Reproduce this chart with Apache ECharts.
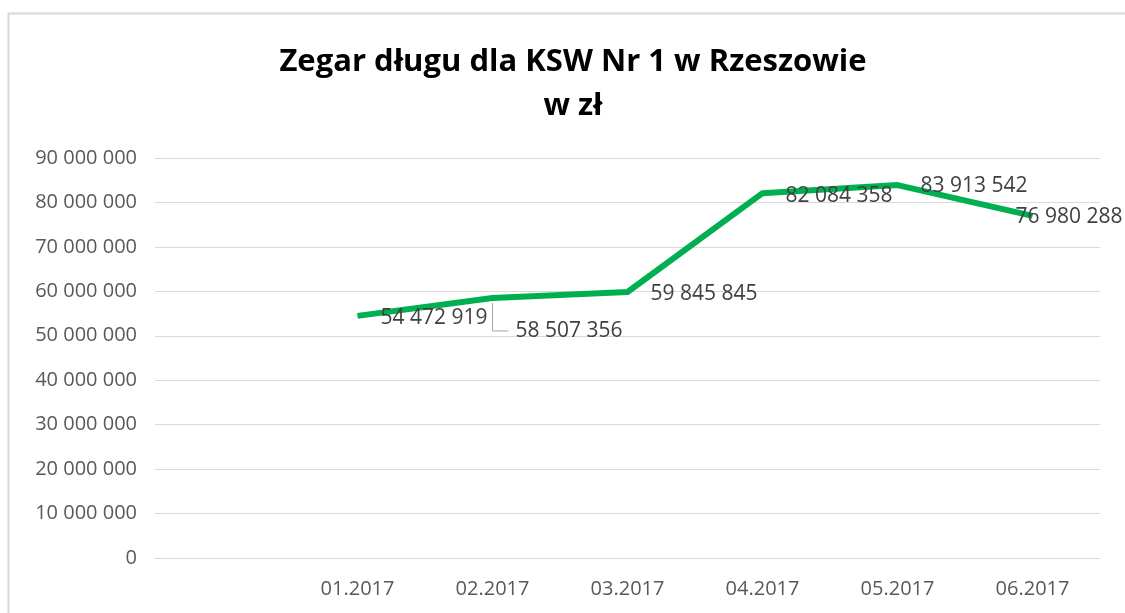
<!DOCTYPE html>
<html>
<head>
<meta charset="utf-8">
<script src="https://cdn.jsdelivr.net/npm/echarts@6/dist/echarts.min.js"></script>
<style>
html, body { margin: 0; padding: 0; background: #fff; }
#main { width: 1125px; height: 613px; }
</style>
</head>
<body>
<div id="main"></div>
<script>
// dane z wykresu (pierwsza kategoria pusta, jak w oryginale)
var months = ['', '01.2017', '02.2017', '03.2017', '04.2017', '05.2017', '06.2017'];
var debt = [null, 54472919, 58507356, 59845845, 82084358, 83913542, 76980288];
var yTicks = [0, 90000000, 10000000]; // min, max, krok

var chart = echarts.init(document.getElementById('main'), null, { renderer: 'canvas' });

function fmt(v) {
    return String(Math.round(v)).replace(/\B(?=(\d{3})+(?!\d))/g, ' ');
}

var font = '"Open Sans", "Liberation Sans", sans-serif';

// etykiety danych - przesunięcia jak w Excelu
var labelOffsets = [null, [0, 2], [0, 33], [0, 2], [0, 3], [0, 1], [-40, 1]];
var labelDistance = 23;
var leaderIndex = 2; // etykieta odsunięta z linią odniesienia

var seriesData = debt.map(function (v) {
    return v === null ? null : { value: v };
});

function labelLayoutFn(params) {
    var off = labelOffsets[params.dataIndex] || [0, 0];
    return { dx: off[0], dy: off[1] };
}

var option = {
    backgroundColor: '#ffffff',
    animation: false,
    title: {
        text: 'Zegar długu dla KSW Nr 1 w Rzeszowie\nw zł',
        left: 568,
        top: 35,
        textAlign: 'center',
        textStyle: {
            fontFamily: font,
            fontWeight: 'bold',
            fontSize: 31,
            lineHeight: 44,
            color: '#000000'
        }
    },
    graphic: [{
        type: 'rect',
        shape: { x: 8.5, y: 13.5, width: 1130, height: 620 },
        style: { fill: 'none', stroke: '#d9d9d9', lineWidth: 2 },
        silent: true
    }],
    grid: { left: 155, right: 25, top: 158, bottom: 55 },
    xAxis: {
        type: 'category',
        data: months,
        boundaryGap: true,
        axisLine: { show: true, lineStyle: { color: '#d9d9d9', width: 1 } },
        axisTick: { show: false },
        axisLabel: {
            color: '#595959',
            fontFamily: font,
            fontSize: 20,
            margin: 21,
            interval: 0
        }
    },
    yAxis: {
        type: 'value',
        min: yTicks[0],
        max: yTicks[1],
        interval: yTicks[2],
        axisLine: { show: false },
        axisTick: { show: false },
        splitLine: { lineStyle: { color: '#d9d9d9', width: 1 } },
        axisLabel: {
            color: '#595959',
            fontFamily: font,
            fontSize: 20,
            margin: 18,
            formatter: fmt
        }
    },
    series: [{
        type: 'line',
        data: seriesData,
        connectNulls: false,
        symbol: 'circle',
        symbolSize: 0.1,
        showSymbol: true,
        lineStyle: { color: '#00b050', width: 6, join: 'round' },
        itemStyle: { color: '#00b050' },
        labelLayout: labelLayoutFn,
        label: {
            show: true,
            position: 'right',
            distance: labelDistance,
            color: '#404040',
            fontFamily: font,
            fontSize: 21,
            formatter: function (p) { return fmt(p.value); }
        }
    }]
};

chart.setOption(option);

// linia odniesienia w kształcie "L" dla odsuniętej etykiety (pozycja z osi wykresu)
var p = chart.convertToPixel({ seriesIndex: 0 }, [leaderIndex, debt[leaderIndex]]);
var off = labelOffsets[leaderIndex];
var midY = p[1] + off[1];
var labelX = p[0] + labelDistance + off[0];
chart.setOption({
    graphic: [option.graphic[0], {
        type: 'polyline',
        shape: { points: [[p[0], p[1] + 5], [p[0], midY], [labelX - 7, midY]] },
        style: { fill: null, stroke: '#a6a6a6', lineWidth: 1 },
        silent: true,
        z: 1
    }]
});
</script>
</body>
</html>
